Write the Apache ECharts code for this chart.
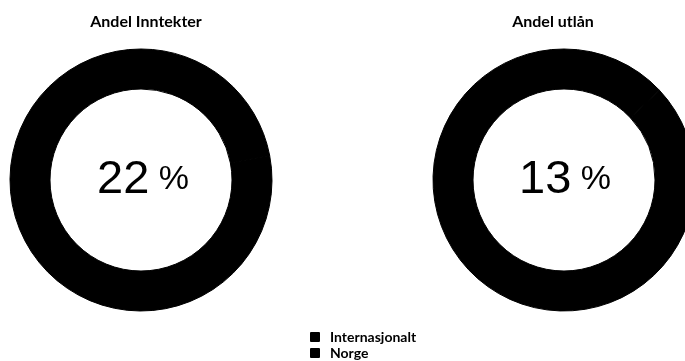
<!DOCTYPE html>
<html><head><meta charset="utf-8">
<script src="https://cdn.jsdelivr.net/npm/echarts@6/dist/echarts.min.js"></script>
<style>html,body{margin:0;padding:0;background:#fff}#c{width:685px;height:361px}</style>
</head><body><div id="c"></div>
<script>
const categories = ['Internasjonalt', 'Norge'];
const titles = ['Andel Inntekter', 'Andel utlån'];
const inntekter = [22, 78];
const utlan = [13, 87];
const colors = ['#000000', '#000000'];

const chart = echarts.init(document.getElementById('c'));
function pieSeries(vals, cx, title) {
  return {
    type: 'pie', name: title,
    center: [cx, 180], radius: [91, 131],
    silent: true, startAngle: 90,
    label: { show: false }, labelLine: { show: false },
    data: categories.map((c, i) => ({ name: c, value: vals[i], itemStyle: { color: colors[i], borderColor: colors[i], borderWidth: 1 } }))
  };
}
const centerText = (v) => '{n|' + v + '}{p| %}';
const rich = { n: { fontFamily: 'Liberation Sans', fontSize: 47, fill: '#000' }, p: { fontFamily: 'Liberation Sans', fontSize: 34, fill: '#000' } };
chart.setOption({
  animation: false,
  title: [
    { text: titles[0], left: 146, top: 14, textAlign: 'center', padding: 0, textStyle: { fontFamily: 'Lato', fontWeight: 'bold', fontSize: 16, color: '#000' } },
    { text: titles[1], left: 553, top: 14, textAlign: 'center', padding: 0, textStyle: { fontFamily: 'Lato', fontWeight: 'bold', fontSize: 16, color: '#000' } }
  ],
  graphic: [
    { type: 'text', x: 143, y: 180, style: { text: centerText(inntekter[0]), align: 'center', verticalAlign: 'middle', rich: rich } },
    { type: 'text', x: 565, y: 180, style: { text: centerText(utlan[0]), align: 'center', verticalAlign: 'middle', rich: rich } }
  ],
  legend: {
    orient: 'vertical', left: 310, top: 330, padding: 0, itemWidth: 8, itemHeight: 8, itemGap: 2,
    icon: 'rect', data: categories,
    textStyle: { fontFamily: 'Lato', fontWeight: 'bold', fontSize: 14, lineHeight: 14, color: '#000', padding: [0, 0, 0, 6] }
  },
  series: [pieSeries(inntekter, 141, titles[0]), pieSeries(utlan, 564, titles[1])]
});
</script></body></html>
